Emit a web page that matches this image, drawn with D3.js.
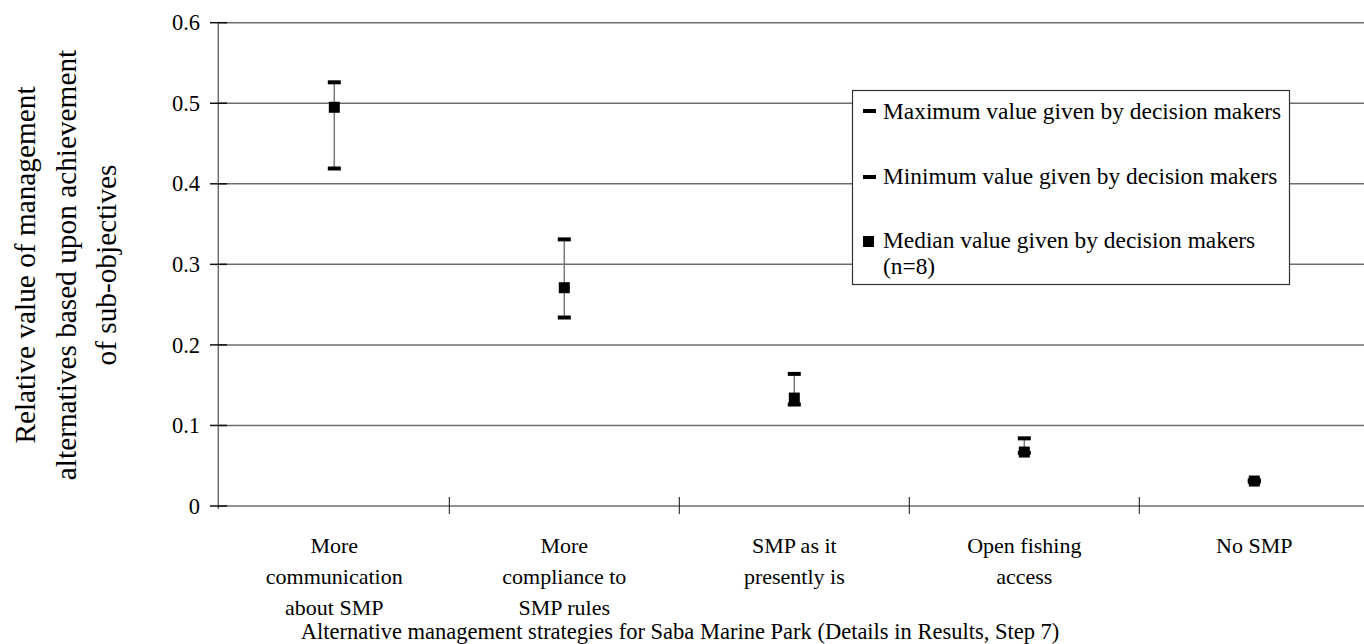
<!DOCTYPE html>
<html><head><meta charset="utf-8">
<script src="https://cdn.jsdelivr.net/npm/d3@7"></script>
<style>
html,body{margin:0;padding:0;background:#fff;}
svg{display:block;font-family:"Liberation Serif","Times New Roman",serif;}
</style></head>
<body><svg id="c" width="1364" height="644"></svg>
<script>
const categories = [
  ["More","communication","about SMP"],
  ["More","compliance to","SMP rules"],
  ["SMP as it","presently is"],
  ["Open fishing","access"],
  ["No SMP"]
];
const maxValues    = [0.526, 0.331, 0.164, 0.084, 0.032];
const minValues    = [0.419, 0.234, 0.126, 0.066, 0.030];
const medianValues = [0.495, 0.271, 0.134, 0.067, 0.031];
const yTicks = [0, 0.1, 0.2, 0.3, 0.4, 0.5, 0.6];
const yTickLabels = ["0","0.1","0.2","0.3","0.4","0.5","0.6"];
const legendLabels = [["Maximum value given by decision makers"],["Minimum value given by decision makers"],["Median value given by decision makers","(n=8)"]];
const yTitle = ["Relative value of management","alternatives based upon achievement","of sub-objectives"];
const xTitle = "Alternative management strategies for Saba Marine Park (Details in Results, Step 7)";

const svg = d3.select("#c");
const x0 = 219.3, bandW = 230;
const x = d3.scaleBand().domain(d3.range(categories.length)).range([x0, x0 + bandW*categories.length]).padding(0);
const y = d3.scaleLinear().domain([0, 0.6]).range([506, 22.7]);

// gridlines
svg.append("g").selectAll("line").data(yTicks).join("line")
  .attr("x1", x0).attr("x2", 1364).attr("y1", d=>y(d)).attr("y2", d=>y(d))
  .attr("stroke", "#6e6e6e").attr("stroke-width", 1.5);

// y axis line
svg.append("line").attr("x1", x0-1).attr("x2", x0-1).attr("y1", y(0.6)).attr("y2", y(0)+3)
  .attr("stroke", "#6e6e6e").attr("stroke-width", 1.5);

// y ticks
svg.append("g").selectAll("line").data(yTicks).join("line")
  .attr("x1", 210).attr("x2", 227).attr("y1", d=>y(d)).attr("y2", d=>y(d))
  .attr("stroke", "#111").attr("stroke-width", 1.5);
svg.append("g").selectAll("text").data(yTicks).join("text")
  .attr("x", 200).attr("y", d=>y(d)).attr("dy", "0.34em")
  .attr("text-anchor", "end").attr("font-size", 22.5).attr("fill", "#000")
  .text((d,i)=>yTickLabels[i]);

// x category ticks
const xTickPos = d3.range(categories.length+1).map(i => x0 + i*bandW);
svg.append("g").selectAll("line").data(xTickPos.slice(1)).join("line")
  .attr("x1", d=>d).attr("x2", d=>d).attr("y1", 497).attr("y2", 514)
  .attr("stroke", "#111").attr("stroke-width", 1);

// category labels
const cl = svg.append("g").selectAll("text").data(categories).join("text")
  .attr("text-anchor", "middle").attr("font-size", 22).attr("fill", "#000");
cl.each(function(lines, i){
  const t = d3.select(this);
  lines.forEach((ln, j)=>{
    t.append("tspan").attr("x", x(i)+bandW/2).attr("y", 553 + j*31).text(ln);
  });
});

// x title
svg.append("text").attr("x", 680).attr("y", 639).attr("text-anchor", "middle")
  .attr("font-size", 22.5).attr("fill", "#000").text(xTitle);

// y title
const yt = svg.append("text").attr("transform", "translate(0,265) rotate(-90)")
  .attr("text-anchor", "middle").attr("font-size", 29.3).attr("fill", "#000");
yTitle.forEach((ln, j)=>{
  yt.append("tspan").attr("x", 0).attr("y", 35 + j*40.5).text(ln);
});

// error bars
const cx = i => x(i) + bandW/2;
const eb = svg.append("g");
eb.selectAll("line").data(categories).join("line")
  .attr("x1", (d,i)=>cx(i)).attr("x2", (d,i)=>cx(i))
  .attr("y1", (d,i)=>y(maxValues[i])).attr("y2", (d,i)=>y(minValues[i]))
  .attr("stroke", "#7a7a7a").attr("stroke-width", 1.5);
eb.selectAll("rect.max").data(maxValues).join("rect").attr("class","max")
  .attr("x", (d,i)=>cx(i)-6.5).attr("y", d=>y(d)-2).attr("width", 13).attr("height", 4).attr("fill", "#000");
eb.selectAll("rect.min").data(minValues).join("rect").attr("class","min")
  .attr("x", (d,i)=>cx(i)-6.5).attr("y", d=>y(d)-2).attr("width", 13).attr("height", 4).attr("fill", "#000");
eb.selectAll("rect.med").data(medianValues).join("rect").attr("class","med")
  .attr("x", (d,i)=>cx(i)-5.5).attr("y", d=>y(d)-5.5).attr("width", 11).attr("height", 11).attr("fill", "#000");

// legend
const lg = svg.append("g");
lg.append("rect").attr("x", 852.5).attr("y", 90.5).attr("width", 437).attr("height", 194)
  .attr("fill", "#fff").attr("stroke", "#333").attr("stroke-width", 1.2);
const legMarkY = [111, 177, 241.5];
const legBase = [119, 184, 248];
legendLabels.forEach((lines, i)=>{
  if (i < 2) {
    lg.append("rect").attr("x", 863).attr("y", legMarkY[i]-2).attr("width", 13).attr("height", 4).attr("fill", "#000");
  } else {
    lg.append("rect").attr("x", 863).attr("y", legMarkY[i]-5.5).attr("width", 11).attr("height", 11).attr("fill", "#000");
  }
  const t = lg.append("text").attr("font-size", 23.4).attr("fill", "#000");
  lines.forEach((ln, j)=>{
    t.append("tspan").attr("x", 883).attr("y", legBase[i] + j*26).text(ln);
  });
});
</script>
</body></html>
